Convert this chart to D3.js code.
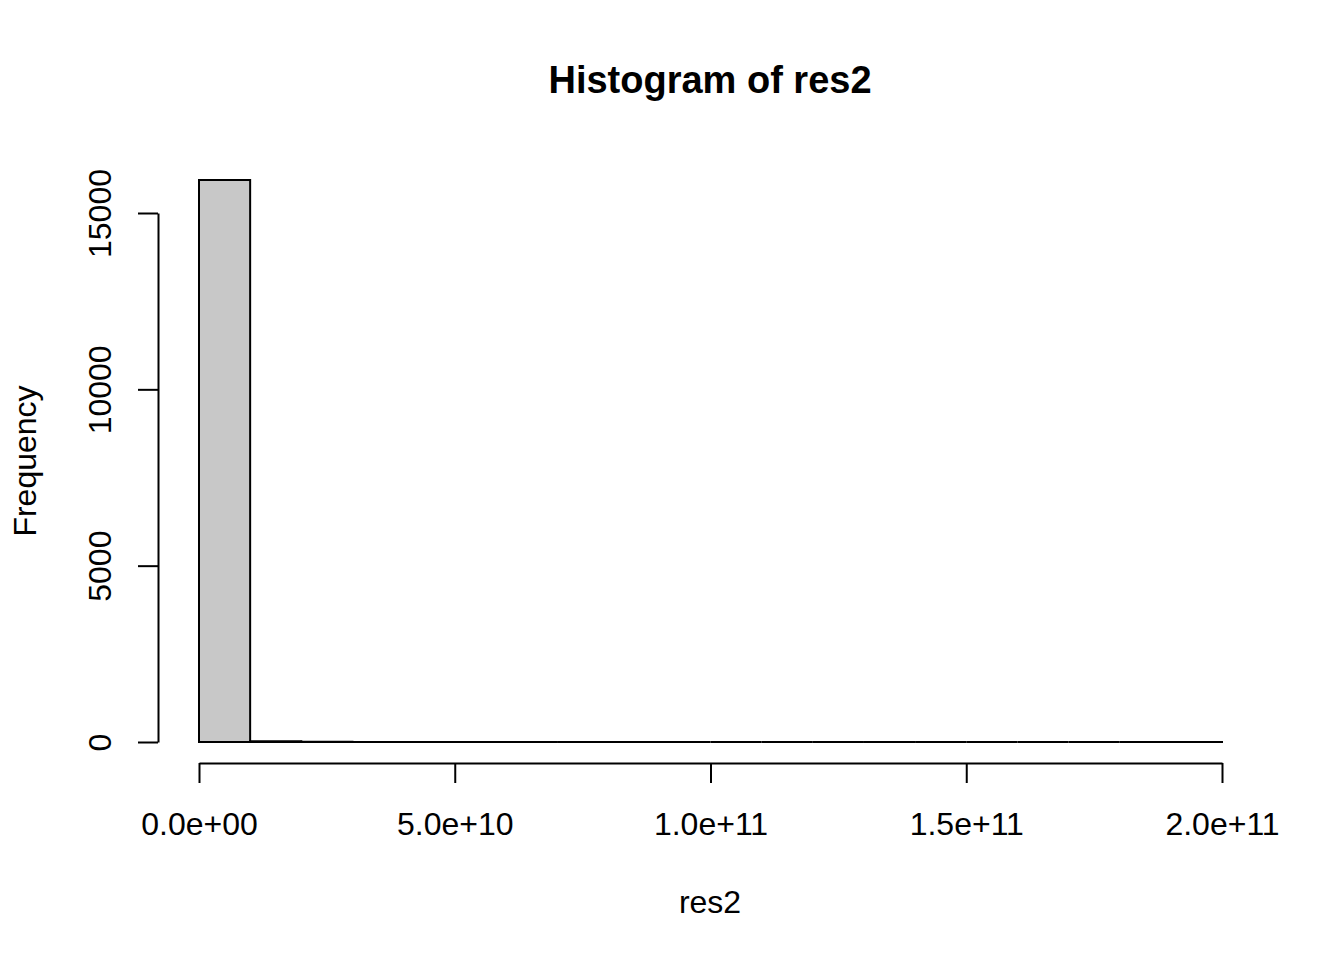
<!DOCTYPE html>
<html>
<head>
<meta charset="utf-8">
<script src="https://cdn.jsdelivr.net/npm/d3@7"></script>
<style>
  html, body { margin: 0; padding: 0; background: #fff; }
  text { font-family: "Liberation Sans", Arial, Helvetica, sans-serif; fill: #000; }
</style>
</head>
<body>
<svg id="chart" width="1344" height="960"></svg>
<script>
// Bin edges (breaks) of res2, each 1e10 wide
const binStarts = [0, 1e10, 2e10, 3e10, 4e10, 5e10, 6e10, 7e10, 8e10, 9e10,
                   1e11, 1.1e11, 1.2e11, 1.3e11, 1.4e11, 1.5e11, 1.6e11, 1.7e11, 1.8e11, 1.9e11];
const binWidth = 1e10;
// Frequencies
const counts = [15936, 22, 4, 2, 1, 1, 0, 0, 1, 0, 0, 0, 0, 0, 0, 0, 0, 0, 0, 1];
const xTicks = [0, 5e10, 1e11, 1.5e11, 2e11];
const xTickLabels = ["0.0e+00", "5.0e+10", "1.0e+11", "1.5e+11", "2.0e+11"];
const yTicks = [0, 5000, 10000, 15000];
const yTickLabels = ["0", "5000", "10000", "15000"];

const svg = d3.select("#chart");
const x = d3.scaleLinear().domain([0, 2e11]).range([199, 1222]);
const y = d3.scaleLinear().domain([0, 15000]).range([742, 213]);

// bars (drawn as closed paths so that empty bins still show as a line)
svg.append("g").selectAll("path")
  .data(binStarts.map((s, i) => ({s, c: counts[i]})))
  .join("path")
  .attr("d", d => {
    const x0 = x(d.s), x1 = x(d.s + binWidth), y0 = y(0), y1 = y(d.c);
    return `M${x0},${y0}L${x0},${y1}L${x1},${y1}L${x1},${y0}Z`;
  })
  .attr("fill", "#c8c8c8")
  .attr("stroke", "#000")
  .attr("stroke-width", 2);

// x axis
const xAxis = d3.axisBottom(x).tickValues(xTicks)
  .tickFormat((d, i) => xTickLabels[i]).tickSize(20).tickPadding(29).tickSizeOuter(0);
const gx = svg.append("g").attr("transform", "translate(0,763)").call(xAxis);
gx.select(".domain").attr("stroke-width", 2);
gx.selectAll(".tick line").attr("stroke-width", 2);
gx.selectAll("text").attr("font-size", 32).style("font-family", '"Liberation Sans", Arial, sans-serif').attr("fill", "#000");

// y axis
const yAxis = d3.axisLeft(y).tickValues(yTicks)
  .tickFormat((d, i) => yTickLabels[i]).tickSize(20).tickPadding(0).tickSizeOuter(0);
const gy = svg.append("g").attr("transform", "translate(158,0)").call(yAxis);
gy.select(".domain").attr("stroke-width", 2);
gy.selectAll(".tick line").attr("stroke-width", 2);
gy.selectAll("text")
  .attr("font-size", 32).style("font-family", '"Liberation Sans", Arial, sans-serif').attr("fill", "#000")
  .attr("x", null).attr("dy", null)
  .attr("text-anchor", "middle")
  .attr("transform", "translate(-47,0) rotate(-90)");

// title
svg.append("text").attr("x", 710).attr("y", 93)
  .attr("text-anchor", "middle").attr("font-size", 38).attr("font-weight", "bold")
  .text("Histogram of res2");
// x label
svg.append("text").attr("x", 710).attr("y", 913)
  .attr("text-anchor", "middle").attr("font-size", 32).text("res2");
// y label
svg.append("text").attr("transform", "translate(36,461) rotate(-90)")
  .attr("text-anchor", "middle").attr("font-size", 32).text("Frequency");
</script>
</body>
</html>
